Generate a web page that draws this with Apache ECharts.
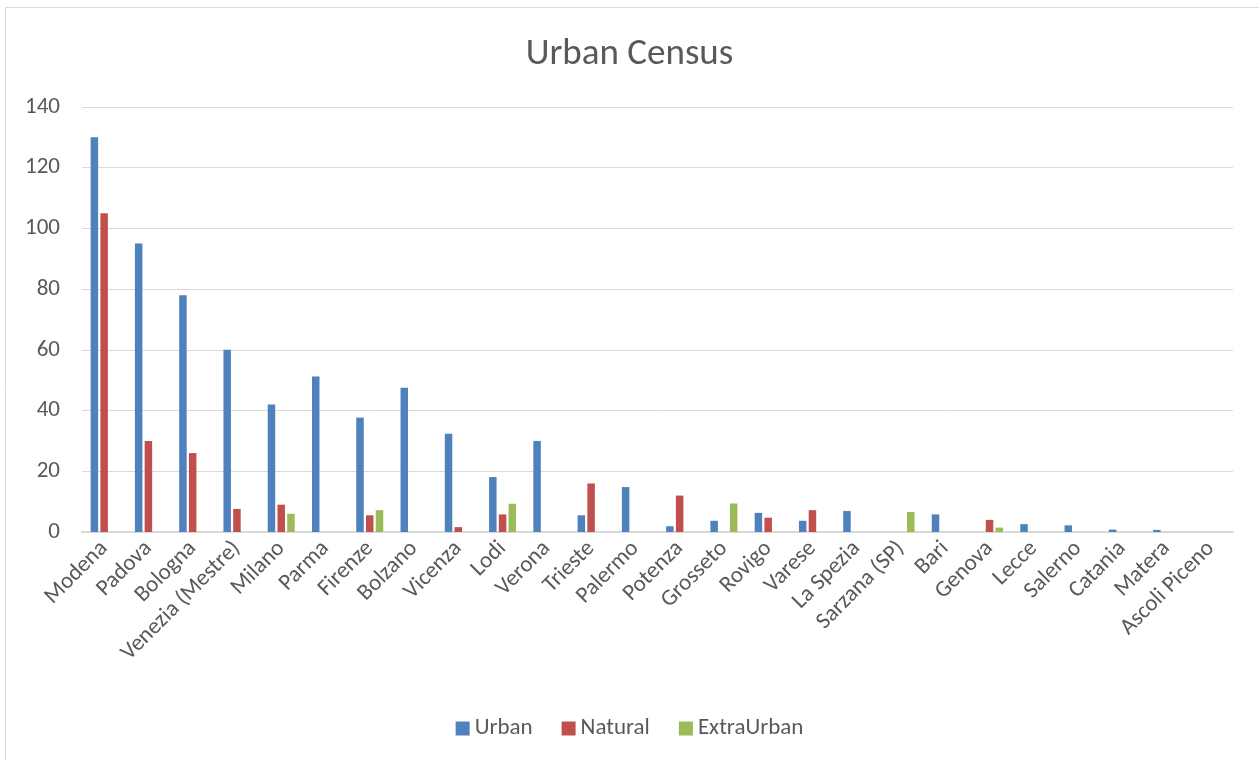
<!DOCTYPE html>
<html>
<head>
<meta charset="utf-8">
<script src="https://cdn.jsdelivr.net/npm/echarts@6/dist/echarts.min.js"></script>
<style>
html,body{margin:0;padding:0;background:#fff;}
#chart{width:1259px;height:760px;}
</style>
</head>
<body>
<div id="chart"></div>
<script>
const categories = ["Modena","Padova","Bologna","Venezia (Mestre)","Milano","Parma","Firenze","Bolzano","Vicenza","Lodi","Verona","Trieste","Palermo","Potenza","Grosseto","Rovigo","Varese","La Spezia","Sarzana (SP)","Bari","Genova","Lecce","Salerno","Catania","Matera","Ascoli Piceno"];
const urban      = [130, 95, 78, 60, 42, 51.2, 37.7, 47.5, 32.4, 18.1, 30, 5.5, 14.8, 1.9, 3.7, 6.3, 3.7, 6.9, 0, 5.8, 0, 2.6, 2.2, 0.8, 0.7, 0];
const natural    = [105, 30, 26, 7.6, 9, 0, 5.5, 0, 1.6, 5.8, 0, 16, 0, 12, 0, 4.7, 7.2, 0, 0, 0, 4, 0, 0, 0, 0, 0];
const extraUrban = [0, 0, 0, 0, 6, 0, 7.2, 0, 0, 9.3, 0, 0, 0, 0, 9.4, 0, 0, 0, 6.6, 0, 1.45, 0, 0, 0, 0, 0];
const yTicks = [0, 20, 40, 60, 80, 100, 120, 140];

const FONT = 'Carlito, "Open Sans", sans-serif';
const chart = echarts.init(document.getElementById('chart'), null, {renderer:'canvas'});
const mk = (name, data, color) => ({
  name, type:'bar', data, barWidth: 7.5, barGap: '30%',
  itemStyle:{color},
  emphasis:{disabled:true}
});
chart.setOption({
  animation:false,
  backgroundColor:'#fff',
  graphic:[{type:'rect', shape:{x:5.5, y:7.5, width:1300, height:800}, style:{fill:'none', stroke:'#d9d9d9', lineWidth:1}, silent:true}],
  title:{text:'Urban Census', left:'center', top:31, textStyle:{fontFamily:FONT, fontSize:37, fontWeight:'normal', color:'#595959'}},
  legend:{top:712, left:'center', itemWidth:14, itemHeight:14, itemGap:29, icon:'rect',
    textStyle:{fontFamily:FONT, fontSize:23, color:'#595959'}},
  grid:{left:82, right:26, top:107, bottom:228, containLabel:false},
  xAxis:{type:'category', data:categories,
    axisLine:{lineStyle:{color:'#d9d9d9', width:2}},
    axisTick:{show:false},
    axisLabel:{rotate:45, interval:0, fontFamily:FONT, fontSize:23, color:'#595959', margin:13}},
  yAxis:{type:'value', min:yTicks[0], max:yTicks[yTicks.length-1], interval:20,
    axisLine:{show:false}, axisTick:{show:false},
    axisLabel:{fontFamily:FONT, fontSize:23, color:'#595959', margin:22}},
  series:[mk('Urban', urban, '#4f81bd'), mk('Natural', natural, '#c0504d'), mk('ExtraUrban', extraUrban, '#9bbb59')]
});
chart.setOption({yAxis:{splitLine:{lineStyle:{color:'#d9d9d9', width:1}}}});
</script>
</body>
</html>
